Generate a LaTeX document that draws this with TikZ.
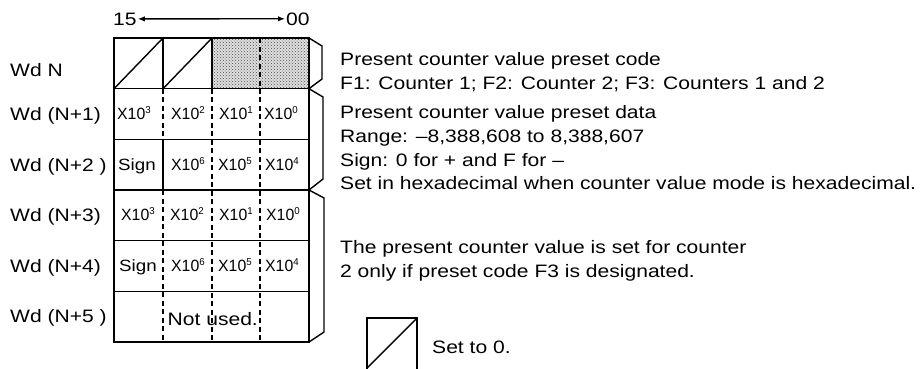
\documentclass[tikz,border=0pt]{standalone}
\usepackage{fontspec}
\setmainfont{Liberation Sans}[FakeStretch=1.17]
\newfontfamily\cellfont{Liberation Sans}[FakeStretch=0.97]
\newfontfamily\signfont{Liberation Sans}[FakeStretch=1.15]
\usetikzlibrary{arrows.meta,patterns}
\newcommand{\pw}[1]{X10\raisebox{0.36em}{\fontsize{10}{10}\selectfont #1}}
\begin{document}
\begin{tikzpicture}[x=1pt,y=-1pt,
  txt/.style={anchor=base west, inner sep=0pt, font=\fontsize{18}{22}\selectfont},
  cell/.style={anchor=base west, inner sep=0pt, font=\cellfont\fontsize{16.3}{18}\selectfont},
  signcell/.style={anchor=base west, inner sep=0pt, font=\signfont\fontsize{16.3}{18}\selectfont},
  border/.style={line width=1.9pt},
  rowline/.style={line width=1.3pt},
  solidsep/.style={line width=1.4pt},
  dashsep/.style={line width=1.4pt, dash pattern=on 5pt off 3.5pt},
  side/.style={line width=1.4pt, line join=miter}]
\useasboundingbox (0,0) rectangle (924,368);

% shaded region
\fill[gray!25] (212,38) rectangle (309,88.7);
\fill[pattern=crosshatch dots, pattern color=black!70] (212,38) rectangle (309,88.7);

% diagonals in Wd N
\draw[solidsep] (114,88.7) -- (163,38);
\draw[solidsep] (163,88.7) -- (212,38);

% row separators
\foreach \yy in {88.7,139.3,190,240.7,291.3}
  \draw[rowline] (114,\yy) -- (309,\yy);

% vertical separators
\draw[solidsep] (163,38) -- (163,88.7);
\draw[solidsep] (212,38) -- (212,88.7);
\draw[dashsep] (260,38) -- (260,88.7);
\draw[dashsep] (163,88.7) -- (163,139.3);
\draw[solidsep] (163,139.3) -- (163,190);
\draw[dashsep] (163,190) -- (163,342);
\draw[dashsep] (212,88.7) -- (212,342);
\draw[dashsep] (260,88.7) -- (260,342);

% outer border
\draw[border] (114,38) rectangle (309,342);

% side brackets
\draw[side] (309,38) -- (322,46) -- (322,79) -- (309,88.7);
\draw[side] (309,88.7) -- (323,97) -- (323,179) -- (309,190);
\draw[side] (309,190) -- (324,198) -- (324,332) -- (309,342);

% top bit range
\node[txt] (b15) at (113,25) {15};
\node[txt] (b00) at (286,25) {00};
\draw[line width=1.3pt, {Latex[length=7pt,width=5.5pt]}-{Latex[length=7pt,width=5.5pt]}] ([xshift=1pt]b15.east) -- ([xshift=-1pt]b00.west);

% left labels
\node[txt] (wn)  at (10,76.5)  {Wd N};
\node[txt] (wn1) at (10,120.3) {Wd (N+1)};
\node[txt] (wn2) at (10,171.3) {Wd (N+2 )};
\node[txt] (wn3) at (10,221)   {Wd (N+3)};
\node[txt] (wn4) at (10,272)   {Wd (N+4)};
\node[txt] (wn5) at (10,322.5) {Wd (N+5 )};

% cells row N+1
\node[cell] (c11) at (117,119.3) {\pw{3}};
\node[cell] (c12) at (171,119.3) {\pw{2}};
\node[cell] (c13) at (219,119.3) {\pw{1}};
\node[cell] (c14) at (264,119.3) {\pw{0}};
% cells row N+2
\node[signcell] (c21) at (118,170) {Sign};
\node[cell] (c22) at (171,170) {\pw{6}};
\node[cell] (c23) at (218,170) {\pw{5}};
\node[cell] (c24) at (265,170) {\pw{4}};
% cells row N+3
\node[cell] (c31) at (121,220.3) {\pw{3}};
\node[cell] (c32) at (170,220.3) {\pw{2}};
\node[cell] (c33) at (219,220.3) {\pw{1}};
\node[cell] (c34) at (266,220.3) {\pw{0}};
% cells row N+4
\node[signcell] (c41) at (119,271.4) {Sign};
\node[cell] (c42) at (171,271.4) {\pw{6}};
\node[cell] (c43) at (218,271.4) {\pw{5}};
\node[cell] (c44) at (265,271.4) {\pw{4}};
% row N+5
\node[txt] (nu) at (167.5,325) {Not used.};

% right descriptions
\node[txt] (d1) at (340,65.5)  {Present counter value preset code};
\node[txt] (d2) at (340,89.5)  {F1: Counter 1; F2: Counter 2; F3: Counters 1 and 2};
\node[txt] (d3) at (340,118)   {Present counter value preset data};
\node[txt] (d4) at (340,142)   {Range: –8,388,608 to 8,388,607};
\node[txt] (d5) at (340,166)   {Sign: 0 for + and F for –};
\node[txt] (d6) at (340,189.5) {Set in hexadecimal when counter value mode is hexadecimal.};
\node[txt] (d7) at (340,253)   {The present counter value is set for counter};
\node[txt] (d8) at (340,277)   {2 only if preset code F3 is designated.};

% legend
\draw[solidsep] (367,372) -- (367,318) -- (417,318) -- (417,372);
\draw[solidsep] (367,368) -- (417,318);
\node[txt] (leg) at (432,353.5) {Set to 0.};
\end{tikzpicture}
\end{document}
